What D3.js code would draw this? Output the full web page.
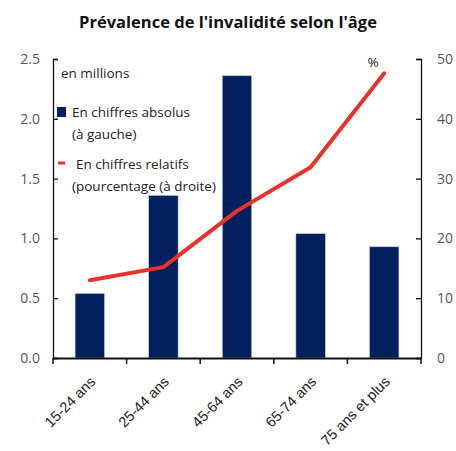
<!DOCTYPE html>
<html>
<head>
<meta charset="utf-8">
<script src="https://cdn.jsdelivr.net/npm/d3@7"></script>
<style>
  body { margin: 0; background: #fff; }
  svg { font-family: "Open Sans", sans-serif; }
</style>
</head>
<body>
<svg id="chart" width="456" height="451"></svg>
<script>
var ageGroups = ["15-24 ans", "25-44 ans", "45-64 ans", "65-74 ans", "75 ans et plus"];
var absolute = [0.54, 1.36, 2.36, 1.04, 0.93];   // millions (left)
var relative = [13.0, 15.2, 24.6, 31.9, 47.6];   // % (right)
var leftTicks = [0, 0.5, 1.0, 1.5, 2.0, 2.5];
var rightTicks = [0, 10, 20, 30, 40, 50];

var svg = d3.select("#chart");
var plotLeft = 53, plotRight = 421, plotTop = 59, plotBottom = 358;

var x = d3.scaleBand().domain(ageGroups).range([plotLeft, plotRight]).paddingInner(0.6).paddingOuter(0.3);
var xOuter = d3.scaleBand().domain(ageGroups).range([plotLeft, plotRight]);
var yL = d3.scaleLinear().domain([0, 2.5]).range([plotBottom, plotTop]);
var yR = d3.scaleLinear().domain([0, 50]).range([plotBottom, plotTop]);

// title
svg.append("text")
    .attr("x", 228).attr("y", 28)
    .attr("text-anchor", "middle")
    .attr("font-size", 16.5).attr("font-weight", "bold")
    .attr("fill", "#111")
    .text("Prévalence de l'invalidité selon l'âge");

// bars
svg.append("g").selectAll("rect")
    .data(absolute)
    .enter().append("rect")
    .attr("x", function (d, i) { return x(ageGroups[i]); })
    .attr("width", x.bandwidth())
    .attr("y", function (d) { return yL(d); })
    .attr("height", function (d) { return plotBottom - yL(d); })
    .attr("fill", "#02205e")
    .attr("stroke", "#c5cce0").attr("stroke-width", 0.6);

// line
var line = d3.line()
    .x(function (d, i) { return xOuter(ageGroups[i]) + xOuter.bandwidth() / 2; })
    .y(function (d) { return yR(d); });
svg.append("path")
    .datum(relative)
    .attr("d", line)
    .attr("fill", "none")
    .attr("stroke", "#e8322a")
    .attr("stroke-width", 4)
    .attr("stroke-linecap", "round")
    .attr("stroke-linejoin", "round");

// left axis
var gl = svg.append("g").attr("transform", "translate(" + plotLeft + ",0)")
    .call(d3.axisLeft(yL).tickValues(leftTicks).tickFormat(d3.format(".1f")).tickSizeInner(-5).tickSizeOuter(-5).tickPadding(13));
// right axis
var gr = svg.append("g").attr("transform", "translate(" + plotRight + ",0)")
    .call(d3.axisRight(yR).tickValues(rightTicks).tickSizeInner(-5).tickSizeOuter(-5).tickPadding(16));
[gl, gr].forEach(function (g) {
    g.select(".domain").attr("stroke", "#111").attr("stroke-width", 1.3);
    g.selectAll(".tick line").attr("stroke", "#111").attr("stroke-width", 1.3);
    g.selectAll(".tick text").attr("font-size", 14).attr("fill", "#555")
        .attr("font-family", "'Open Sans', sans-serif");
});

// x axis
var gx = svg.append("g").attr("transform", "translate(0," + plotBottom + ")")
    .call(d3.axisBottom(xOuter).tickSize(0).tickFormat(""));
gx.select(".domain").attr("stroke", "#111").attr("stroke-width", 2);
var bounds = ageGroups.map(function (a) { return xOuter(a); }).concat([plotRight]);
gx.selectAll("line.sep").data(bounds).enter().append("line")
    .attr("class", "sep")
    .attr("x1", function (d) { return d; }).attr("x2", function (d) { return d; })
    .attr("y1", 0).attr("y2", 6)
    .attr("stroke", "#111").attr("stroke-width", 1.5);
gx.selectAll("text.lab").data(ageGroups).enter().append("text")
    .attr("class", "lab")
    .attr("transform", function (d) {
        return "translate(" + (xOuter(d) + xOuter.bandwidth() / 2 + 3) + ",21) rotate(-45)";
    })
    .attr("text-anchor", "end")
    .attr("dy", "0.35em")
    .attr("font-size", 14.5)
    .attr("fill", "#222")
    .text(function (d) { return d; });

// legend / notes
var note = svg.append("g").attr("font-size", 13.5).attr("fill", "#222");
note.append("text").attr("x", 61).attr("y", 78).text("en millions");
note.append("rect").attr("x", 57).attr("y", 107).attr("width", 9).attr("height", 10).attr("fill", "#02205e");
note.append("text").attr("x", 72).attr("y", 117).text("En chiffres absolus");
note.append("text").attr("x", 72).attr("y", 139).text("(à gauche)");
note.append("line").attr("x1", 58).attr("x2", 65).attr("y1", 163).attr("y2", 163)
    .attr("stroke", "#e8322a").attr("stroke-width", 3);
note.append("text").attr("x", 76).attr("y", 169).text("En chiffres relatifs");
note.append("text").attr("x", 72).attr("y", 191).text("(pourcentage (à droite)");
note.append("text").attr("x", 373).attr("y", 67).attr("text-anchor", "middle").text("%");
</script>
</body>
</html>
